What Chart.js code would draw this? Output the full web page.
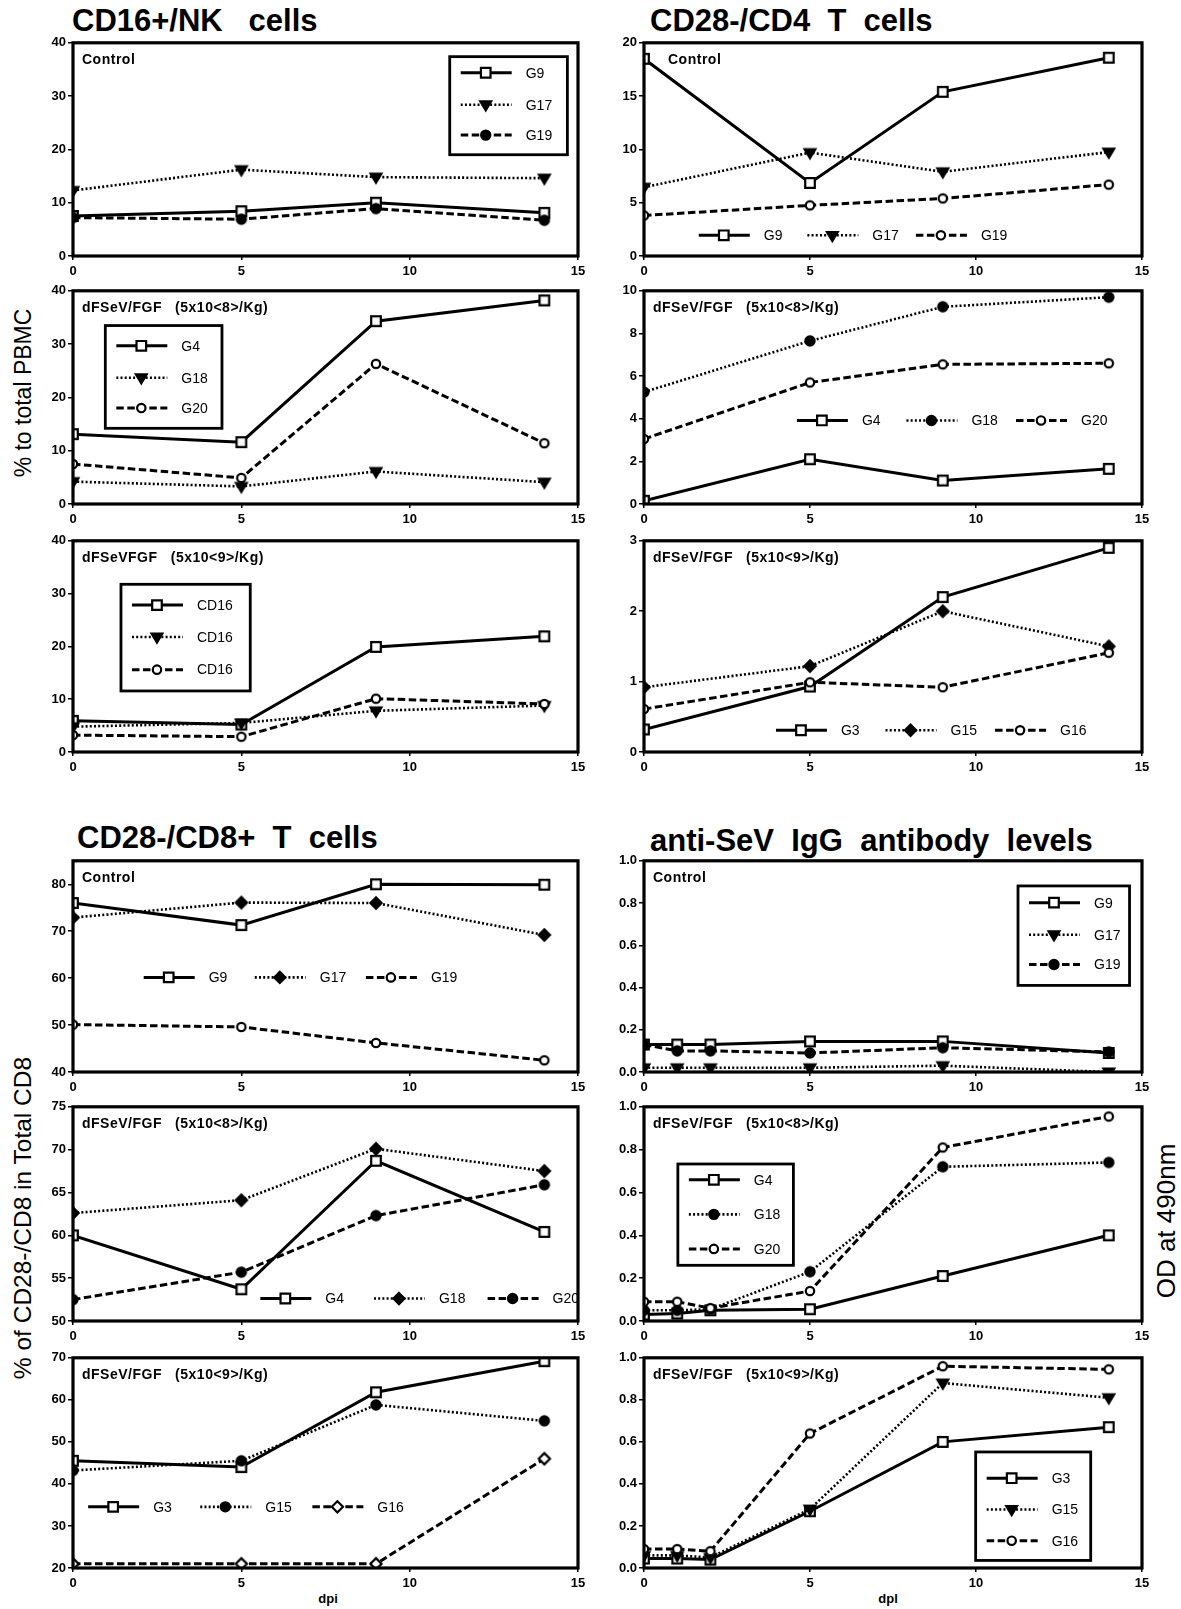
<!DOCTYPE html>
<html>
<head>
<meta charset="utf-8">
<script src="https://cdn.jsdelivr.net/npm/chart.js@4.4.1/dist/chart.umd.min.js"></script>
<style>
  html, body { margin: 0; padding: 0; background: #fff; }
  #fig { position: relative; width: 1181px; height: 1609px; overflow: hidden;
         font-family: "Liberation Sans", Arial, Helvetica, sans-serif; color: #000; }
  .ttl { position: absolute; font-weight: bold; font-size: 31px; white-space: pre; line-height: 1; }
  .ax { position: absolute; white-space: pre; line-height: 1;
        transform: translate(-50%, -50%) rotate(-90deg); }
  .xl { position: absolute; font-size: 13px; font-weight: bold; white-space: pre; line-height: 1;
        transform: translate(-50%, -50%); }
  canvas { position: absolute; }
</style>
</head>
<body>
<div id="fig">
  <div class="ttl" style="left:72px;top:5px">CD16+/NK   cells</div>
  <div class="ttl" style="left:650px;top:5px">CD28-/CD4  T  cells</div>
  <div class="ttl" style="left:77px;top:822px">CD28-/CD8+  T  cells</div>
  <div class="ttl" style="left:650px;top:825px">anti-SeV  IgG  antibody  levels</div>
  <div class="ax" style="left:23px;top:393px;font-size:23px">% to total PBMC</div>
  <div class="ax" style="left:23px;top:1218px;font-size:24.5px">% of CD28-/CD8 in Total CD8</div>
  <div class="ax" style="left:1166px;top:1221px;font-size:26px">OD at 490nm</div>
  <div class="xl" style="left:328px;top:1598px">dpi</div>
  <div class="xl" style="left:888px;top:1598px">dpl</div>
</div>
<script>
// Sampling days (days post inoculation)
const DAYS = [0, 5, 9, 14];
const ELISA_DAYS = [0, 1, 2, 5, 9, 14];
const X_TICKS = [0, 5, 10, 15];

// CD16+/NK cells, % of total PBMC
const NK_CTRL_NAMES = ['G9', 'G17', 'G19'];
const NK_CTRL_G9  = [7.5, 8.4, 10.0, 8.1];
const NK_CTRL_G17 = [12.3, 16.2, 14.8, 14.6];
const NK_CTRL_G19 = [7.2, 6.9, 8.9, 6.7];

const NK_LOW_NAMES = ['G4', 'G18', 'G20'];
const NK_LOW_G4  = [13.1, 11.6, 34.3, 38.2];
const NK_LOW_G18 = [4.2, 3.3, 6.1, 4.1];
const NK_LOW_G20 = [7.5, 4.9, 26.3, 11.4];

const NK_HIGH_NAMES = ['CD16', 'CD16', 'CD16'];
const NK_HIGH_A = [5.9, 5.2, 19.9, 21.9];
const NK_HIGH_B = [4.8, 5.5, 7.8, 8.8];
const NK_HIGH_C = [3.2, 2.9, 10.1, 9.1];

// CD28-/CD4 T cells
const CD4_CTRL_NAMES = ['G9', 'G17', 'G19'];
const CD4_CTRL_G9  = [18.5, 6.85, 15.4, 18.6];
const CD4_CTRL_G17 = [6.45, 9.7, 7.9, 9.75];
const CD4_CTRL_G19 = [3.8, 4.75, 5.4, 6.7];

const CD4_LOW_NAMES = ['G4', 'G18', 'G20'];
const CD4_LOW_G4  = [0.15, 2.1, 1.1, 1.65];
const CD4_LOW_G18 = [5.25, 7.65, 9.25, 9.7];
const CD4_LOW_G20 = [3.05, 5.7, 6.55, 6.6];

const CD4_HIGH_NAMES = ['G3', 'G15', 'G16'];
const CD4_HIGH_G3  = [0.32, 0.93, 2.2, 2.9];
const CD4_HIGH_G15 = [0.92, 1.22, 2.0, 1.5];
const CD4_HIGH_G16 = [0.61, 0.99, 0.92, 1.41];

// CD28-/CD8+ T cells, % in total CD8
const CD8_CTRL_NAMES = ['G9', 'G17', 'G19'];
const CD8_CTRL_G9  = [76.0, 71.3, 80.0, 79.9];
const CD8_CTRL_G17 = [72.9, 76.1, 76.0, 69.2];
const CD8_CTRL_G19 = [50.1, 49.6, 46.2, 42.5];

const CD8_LOW_NAMES = ['G4', 'G18', 'G20'];
const CD8_LOW_G4  = [60.0, 53.7, 68.7, 60.4];
const CD8_LOW_G18 = [62.6, 64.1, 70.1, 67.5];
const CD8_LOW_G20 = [52.5, 55.7, 62.3, 65.9];

const CD8_HIGH_NAMES = ['G3', 'G15', 'G16'];
const CD8_HIGH_G3  = [45.5, 44.0, 61.8, 69.2];
const CD8_HIGH_G15 = [43.2, 45.5, 58.8, 55.0];
const CD8_HIGH_G16 = [21.0, 21.0, 21.0, 46.0];

// anti-SeV IgG, OD at 490 nm
const IGG_CTRL_NAMES = ['G9', 'G17', 'G19'];
const IGG_CTRL_G9  = [0.13, 0.13, 0.13, 0.145, 0.145, 0.09];
const IGG_CTRL_G17 = [0.02, 0.02, 0.02, 0.02, 0.03, 0.0];
const IGG_CTRL_G19 = [0.13, 0.10, 0.10, 0.09, 0.115, 0.095];

const IGG_LOW_NAMES = ['G4', 'G18', 'G20'];
const IGG_LOW_G4  = [0.03, 0.035, 0.05, 0.055, 0.21, 0.40];
const IGG_LOW_G18 = [0.05, 0.05, 0.055, 0.23, 0.72, 0.74];
const IGG_LOW_G20 = [0.09, 0.09, 0.06, 0.14, 0.81, 0.955];

const IGG_HIGH_NAMES = ['G3', 'G15', 'G16'];
const IGG_HIGH_G3  = [0.045, 0.045, 0.04, 0.27, 0.60, 0.67];
const IGG_HIGH_G15 = [0.06, 0.06, 0.05, 0.28, 0.88, 0.81];
const IGG_HIGH_G16 = [0.09, 0.09, 0.08, 0.64, 0.96, 0.945];

const LABEL_CTRL = 'Control';
const LABEL_LOW = 'dFSeV/FGF   (5x10<8>/Kg)';
const LABEL_HIGH = 'dFSeV/FGF   (5x10<9>/Kg)';
const LABEL_HIGH_NK = 'dFSeVFGF   (5x10<9>/Kg)';

// ---- layout of the plot frames (page pixels) ----
const COLS = { L: { l: 73, r: 578 }, R: { l: 644, r: 1142 } };
const ROWS = {
  A: { t: 42, b: 256 }, B: { t: 290, b: 504 }, C: { t: 540, b: 752 },
  D: { t: 860, b: 1072 }, E: { t: 1106, b: 1321 }, F: { t: 1357, b: 1568 }
};
const FONT = '"Liberation Sans", Arial, Helvetica, sans-serif';

// line styles: solid, dotted, dashed
const LINES = [
  { width: 3, dash: [] },
  { width: 2.6, dash: [2, 2.2] },
  { width: 3, dash: [7.5, 3.5] }
];

function markerPath(ctx, kind, x, y) {
  ctx.beginPath();
  if (kind === 'sq') { const s = 4.8; ctx.rect(x - s, y - s, 2 * s, 2 * s); }
  else if (kind === 'tri') {
    const r = 6;
    ctx.moveTo(x - r * 0.9, y - r * 0.55); ctx.lineTo(x + r * 0.9, y - r * 0.55);
    ctx.lineTo(x, y + r * 0.95); ctx.closePath();
  }
  else if (kind === 'dia' || kind === 'odia') {
    const r = 5.6; ctx.moveTo(x, y - r); ctx.lineTo(x + r, y); ctx.lineTo(x, y + r); ctx.lineTo(x - r, y); ctx.closePath();
  }
  else if (kind === 'dot') { ctx.arc(x, y, 4.6, 0, Math.PI * 2); }
  else { ctx.arc(x, y, 4.2, 0, Math.PI * 2); }
}
function drawMarker(ctx, kind, x, y) {
  ctx.save();
  ctx.setLineDash([]);
  ctx.lineWidth = 2.2;
  ctx.strokeStyle = '#000';
  ctx.fillStyle = (kind === 'sq' || kind === 'ring' || kind === 'odia') ? '#fff' : '#000';
  markerPath(ctx, kind, x, y);
  ctx.fill(); ctx.stroke();
  ctx.restore();
}
const sprites = {};
function sprite(kind) {
  if (!sprites[kind]) {
    const c = document.createElement('canvas');
    c.width = 18; c.height = 18;
    drawMarker(c.getContext('2d'), kind, 9, 9);
    sprites[kind] = c;
  }
  return sprites[kind];
}

// frame, panel caption and in-plot legend
const decor = {
  id: 'decor',
  afterDatasetsDraw(chart, args, opts) {
    const ctx = chart.ctx, a = chart.chartArea;
    const w = a.right - a.left, h = a.bottom - a.top;
    ctx.save();
    ctx.lineWidth = 3.2;
    ctx.strokeStyle = '#000';
    ctx.strokeRect(a.left, a.top, w, h);

    ctx.fillStyle = '#000';
    ctx.font = 'bold 14px ' + FONT;
    ctx.letterSpacing = '0.5px';
    ctx.textBaseline = 'middle';
    ctx.textAlign = 'left';
    ctx.fillText(opts.caption, a.left + (opts.captionX || 9), a.top + 17);
    ctx.letterSpacing = '0px';

    const lg = opts.legend;
    const items = chart.data.datasets;
    ctx.font = '14px ' + FONT;
    const sample = (x, y, i) => {
      const st = LINES[i];
      ctx.save();
      ctx.lineWidth = st.width;
      ctx.setLineDash(st.dash);
      ctx.beginPath(); ctx.moveTo(x, y); ctx.lineTo(x + 51, y); ctx.stroke();
      ctx.restore();
      drawMarker(ctx, items[i].mark, x + 25, y);
      ctx.fillText(items[i].label, x + 65, y + 1);
    };
    if (lg.type === 'box') {
      const bx = a.left + lg.box[0] * w, by = a.top + lg.box[1] * h;
      const bw = (lg.box[2] - lg.box[0]) * w, bh = (lg.box[3] - lg.box[1]) * h;
      const rows = lg.rows || [0.17, 0.495, 0.81];
      ctx.fillStyle = '#fff';
      ctx.fillRect(bx, by, bw, bh);
      ctx.fillStyle = '#000';
      ctx.lineWidth = 2.8;
      ctx.strokeRect(bx, by, bw, bh);
      items.forEach((d, i) => sample(bx + 11, by + rows[i] * bh, i));
    } else {
      const y = a.top + lg.y * h;
      items.forEach((d, i) => sample(a.left + (lg.x + i * lg.step) * w, y, i));
    }
    ctx.restore();
  }
};

function makePanel(p) {
  const col = COLS[p.col], row = ROWS[p.row];
  const padL = 52, padT = 9, padR = 12, padB = 26;
  const canvas = document.createElement('canvas');
  canvas.width = (col.r - col.l) + padL + padR;
  canvas.height = (row.b - row.t) + padT + padB;
  canvas.style.left = (col.l - padL) + 'px';
  canvas.style.top = (row.t - padT) + 'px';
  document.getElementById('fig').appendChild(canvas);

  const datasets = p.series.map((vals, i) => ({
    label: p.names[i],
    mark: p.marks[i],
    data: vals.map((v, k) => ({ x: p.days[k], y: v })),
    borderColor: '#000',
    borderWidth: LINES[i].width,
    borderDash: LINES[i].dash,
    pointStyle: sprite(p.marks[i]),
    pointRadius: 5,
    tension: 0,
    fill: false,
    order: 3 - i
  }));

  new Chart(canvas, {
    type: 'line',
    data: { datasets },
    plugins: [decor],
    options: {
      responsive: false,
      animation: false,
      devicePixelRatio: 1,
      layout: { padding: { left: 0, top: padT, right: padR, bottom: 0 } },
      plugins: {
        legend: { display: false },
        tooltip: { enabled: false },
        decor: { caption: p.caption, captionX: p.captionX, legend: p.legend }
      },
      scales: {
        x: {
          type: 'linear', min: 0, max: 15,
          afterFit: s => { s.height = padB; },
          afterBuildTicks: s => { s.ticks = X_TICKS.map(v => ({ value: v })); },
          border: { display: false },
          grid: { drawOnChartArea: false, drawTicks: true, tickLength: 4, color: '#000', lineWidth: 1.5 },
          ticks: { color: '#000', padding: 4, maxRotation: 0, font: { family: FONT, size: 13, weight: 'bold' } }
        },
        y: {
          type: 'linear', min: p.y.min, max: p.y.max,
          afterFit: s => { s.width = padL; },
          border: { display: false },
          grid: { drawOnChartArea: false, drawTicks: true, tickLength: 5, color: '#000', lineWidth: 1.5 },
          ticks: {
            stepSize: p.y.step, includeBounds: false, color: '#000', padding: 2,
            font: { family: FONT, size: 13, weight: 'bold' },
            callback: v => p.y.dec ? Number(v).toFixed(p.y.dec) : String(v)
          }
        }
      }
    }
  });
}

const PANELS = [
  { col: 'L', row: 'A', caption: LABEL_CTRL, days: DAYS, y: { min: 0, max: 40, step: 10 },
    series: [NK_CTRL_G9, NK_CTRL_G17, NK_CTRL_G19], names: NK_CTRL_NAMES, marks: ['sq', 'tri', 'dot'],
    legend: { type: 'box', box: [0.746, 0.065, 0.979, 0.525], rows: [0.164, 0.49, 0.80] } },
  { col: 'L', row: 'B', caption: LABEL_LOW, days: DAYS, y: { min: 0, max: 40, step: 10 },
    series: [NK_LOW_G4, NK_LOW_G18, NK_LOW_G20], names: NK_LOW_NAMES, marks: ['sq', 'tri', 'ring'],
    legend: { type: 'box', box: [0.064, 0.163, 0.295, 0.645], rows: [0.197, 0.508, 0.803] } },
  { col: 'L', row: 'C', caption: LABEL_HIGH_NK, days: DAYS, y: { min: 0, max: 40, step: 10 },
    series: [NK_HIGH_A, NK_HIGH_B, NK_HIGH_C], names: NK_HIGH_NAMES, marks: ['sq', 'tri', 'ring'],
    legend: { type: 'box', box: [0.095, 0.206, 0.351, 0.711], rows: [0.195, 0.494, 0.80] } },
  { col: 'R', row: 'A', caption: LABEL_CTRL, captionX: 24, days: DAYS, y: { min: 0, max: 20, step: 5 },
    series: [CD4_CTRL_G9, CD4_CTRL_G17, CD4_CTRL_G19], names: CD4_CTRL_NAMES, marks: ['sq', 'tri', 'ring'],
    legend: { type: 'row', x: 0.11, y: 0.903, step: 0.218 } },
  { col: 'R', row: 'B', caption: LABEL_LOW, days: DAYS, y: { min: 0, max: 10, step: 2 },
    series: [CD4_LOW_G4, CD4_LOW_G18, CD4_LOW_G20], names: CD4_LOW_NAMES, marks: ['sq', 'dot', 'ring'],
    legend: { type: 'row', x: 0.307, y: 0.608, step: 0.22 } },
  { col: 'R', row: 'C', caption: LABEL_HIGH, days: DAYS, y: { min: 0, max: 3, step: 1 },
    series: [CD4_HIGH_G3, CD4_HIGH_G15, CD4_HIGH_G16], names: CD4_HIGH_NAMES, marks: ['sq', 'dia', 'ring'],
    legend: { type: 'row', x: 0.265, y: 0.897, step: 0.22 } },
  { col: 'L', row: 'D', caption: LABEL_CTRL, days: DAYS, y: { min: 40, max: 85, step: 10 },
    series: [CD8_CTRL_G9, CD8_CTRL_G17, CD8_CTRL_G19], names: CD8_CTRL_NAMES, marks: ['sq', 'dia', 'ring'],
    legend: { type: 'row', x: 0.14, y: 0.552, step: 0.22 } },
  { col: 'L', row: 'E', caption: LABEL_LOW, days: DAYS, y: { min: 50, max: 75, step: 5 },
    series: [CD8_LOW_G4, CD8_LOW_G18, CD8_LOW_G20], names: CD8_LOW_NAMES, marks: ['sq', 'dia', 'dot'],
    legend: { type: 'row', x: 0.371, y: 0.895, step: 0.225 } },
  { col: 'L', row: 'F', caption: LABEL_HIGH, days: DAYS, y: { min: 20, max: 70, step: 10 },
    series: [CD8_HIGH_G3, CD8_HIGH_G15, CD8_HIGH_G16], names: CD8_HIGH_NAMES, marks: ['sq', 'dot', 'odia'],
    legend: { type: 'row', x: 0.03, y: 0.709, step: 0.222 } },
  { col: 'R', row: 'D', caption: LABEL_CTRL, days: ELISA_DAYS, y: { min: 0, max: 1, step: 0.2, dec: 1 },
    series: [IGG_CTRL_G9, IGG_CTRL_G17, IGG_CTRL_G19], names: IGG_CTRL_NAMES, marks: ['sq', 'tri', 'dot'],
    legend: { type: 'box', box: [0.751, 0.119, 0.975, 0.59], rows: [0.168, 0.49, 0.79] } },
  { col: 'R', row: 'E', caption: LABEL_LOW, days: ELISA_DAYS, y: { min: 0, max: 1, step: 0.2, dec: 1 },
    series: [IGG_LOW_G4, IGG_LOW_G18, IGG_LOW_G20], names: IGG_LOW_NAMES, marks: ['sq', 'dot', 'ring'],
    legend: { type: 'box', box: [0.068, 0.267, 0.30, 0.74], rows: [0.156, 0.497, 0.838] } },
  { col: 'R', row: 'F', caption: LABEL_HIGH, days: ELISA_DAYS, y: { min: 0, max: 1, step: 0.2, dec: 1 },
    series: [IGG_HIGH_G3, IGG_HIGH_G15, IGG_HIGH_G16], names: IGG_HIGH_NAMES, marks: ['sq', 'tri', 'ring'],
    legend: { type: 'box', box: [0.666, 0.448, 0.897, 0.964], rows: [0.242, 0.53, 0.818] } }
];

PANELS.forEach(makePanel);
</script>
</body>
</html>
